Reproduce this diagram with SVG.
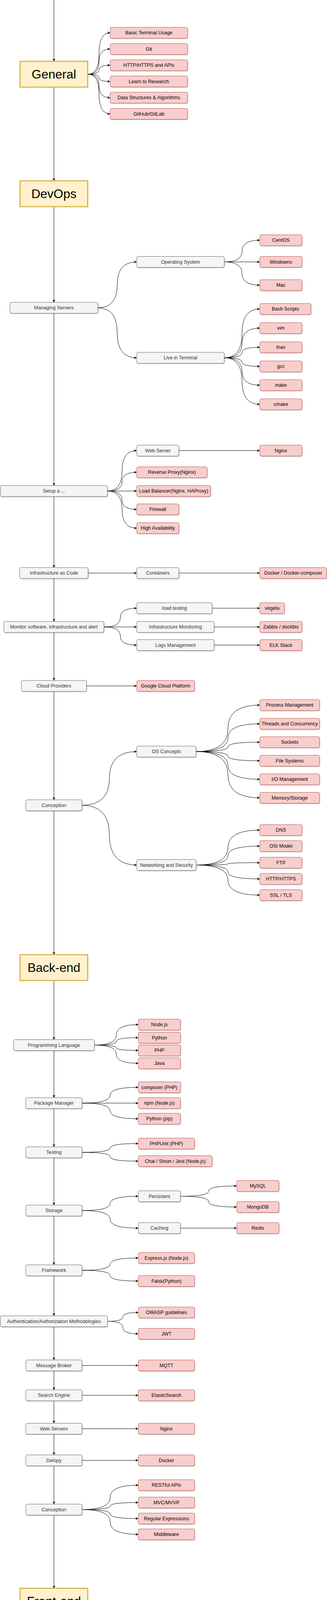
<svg xmlns="http://www.w3.org/2000/svg" width="837" height="6633" viewBox="0 0 837 6633">
<style>
text{font-family:"Liberation Sans",Arial,Helvetica,sans-serif;font-size:12.5px;text-anchor:middle;dominant-baseline:central}
.g rect{fill:#f5f5f5;stroke:#666666;stroke-width:1;filter:url(#sh)}
.g text{fill:#333333}
.r rect{fill:#f8cecc;stroke:#b85450;stroke-width:1;filter:url(#sh)}
.r text{fill:#000000}
.y rect{fill:#fff2cc;stroke:#d6b656;stroke-width:3}
.y text{font-size:32px;fill:#000000}
#edges path{fill:none;stroke:#000000;stroke-width:1;marker-end:url(#ar)}
</style>
<defs>
<marker id="ar" viewBox="0 0 8 8" refX="8" refY="4" markerWidth="7" markerHeight="7" markerUnits="userSpaceOnUse" orient="auto"><path d="M0,0 L8,4 L0,8 L2.2,4 z" fill="#000000"/></marker>
<filter id="sh" x="-5%" y="-20%" width="110%" height="150%"><feDropShadow dx="1" dy="1.5" stdDeviation="0.6" flood-color="#000000" flood-opacity="0.22"/></filter>
</defs>
<rect x="0" y="0" width="837" height="6633" fill="#ffffff"/>

<g id="edges">
<!-- spine -->
<path d="M138 0 L138 157"/>
<path d="M138 223 L138 463"/>
<path d="M138 529 L138 774"/>
<path d="M138 802 L138 1243"/>
<path d="M138 1271 L138 1453"/>
<path d="M138 1481 L138 1591"/>
<path d="M138 1619 L138 1742"/>
<path d="M138 1770 L138 2047.5"/>
<path d="M138 2075.5 L138 2444"/>
<path d="M138 2510 L138 2661.5"/>
<path d="M138 2689.5 L138 2810"/>
<path d="M138 2838 L138 2936"/>
<path d="M138 2964 L138 3085"/>
<path d="M138 3113 L138 3238"/>
<path d="M138 3266 L138 3368.5"/>
<path d="M138 3396.5 L138 3481.5"/>
<path d="M138 3509.5 L138 3558"/>
<path d="M138 3586 L138 3643.5"/>
<path d="M138 3671.5 L138 3724.5"/>
<path d="M138 3752.5 L138 3850.5"/>
<path d="M138 3878.5 L138 4066"/>
<path d="M138 4132 L138 4256"/>
<path d="M138 4284 L138 4406.5"/>
<path d="M138 4434.5 L138 4905"/>
<path d="M138 4933 L138 5357.5"/>
<path d="M138 5385.5 L138 5456.5"/>
<path d="M138 5484.5 L138 5580"/>
<path d="M138 5646 L138 5698"/>
<path d="M138 5726 L138 5761"/>
<path d="M138 5789 L138 5922"/>
<path d="M138 5988 L138 6069.5"/>
<path d="M138 6097.5 L138 6200.5"/>
<path d="M138 6228.5 L138 6299.5"/>
<path d="M138 6327.5 L138 6427.5"/>
<path d="M138 6455.5 L138 6534"/>
<path d="M138 6562 L138 6632"/>
<!-- General -->
<path d="M225 190 Q253.5 190 253.5 137 Q253.5 84 282 84"/>
<path d="M225 190 Q253.5 190 253.5 157.75 Q253.5 125.5 282 125.5"/>
<path d="M225 190 Q253.5 190 253.5 178.5 Q253.5 167 282 167"/>
<path d="M225 190 Q253.5 190 253.5 199.25 Q253.5 208.5 282 208.5"/>
<path d="M225 190 Q253.5 190 253.5 220 Q253.5 250 282 250"/>
<path d="M225 190 Q253.5 190 253.5 240.75 Q253.5 291.5 282 291.5"/>
<!-- Managing servers -->
<path d="M250.5 788 Q300 788 300 729.25 Q300 670.5 350 670.5"/>
<path d="M250.5 788 Q300 788 300 852 Q300 916 350 916"/>
<path d="M574 670.5 Q619.5 670.5 619.5 642.75 Q619.5 615 665 615"/>
<path d="M574 670.5 L665 670.5"/>
<path d="M574 670.5 Q619.5 670.5 619.5 700.25 Q619.5 730 665 730"/>
<path d="M574 916 Q619.5 916 619.5 853.5 Q619.5 791 665 791"/>
<path d="M574 916 Q619.5 916 619.5 878 Q619.5 840 665 840"/>
<path d="M574 916 Q619.5 916 619.5 902.5 Q619.5 889 665 889"/>
<path d="M574 916 Q619.5 916 619.5 927 Q619.5 938 665 938"/>
<path d="M574 916 Q619.5 916 619.5 951 Q619.5 986 665 986"/>
<path d="M574 916 Q619.5 916 619.5 975.5 Q619.5 1035 665 1035"/>
<!-- Setup -->
<path d="M275 1257 Q312.5 1257 312.5 1205.25 Q312.5 1153.5 350 1153.5"/>
<path d="M275 1257 Q312.5 1257 312.5 1233 Q312.5 1209 350 1209"/>
<path d="M275 1257 L350 1257"/>
<path d="M275 1257 Q312.5 1257 312.5 1280.5 Q312.5 1304 350 1304"/>
<path d="M275 1257 Q312.5 1257 312.5 1304.5 Q312.5 1352 350 1352"/>
<path d="M458 1153.5 L665 1153.5"/>
<!-- IaC -->
<path d="M225.5 1467 L350 1467"/>
<path d="M458 1467 L665 1467"/>
<!-- Monitor -->
<path d="M266 1605 Q308 1605 308 1581 Q308 1557 350 1557"/>
<path d="M266 1605 L350 1605"/>
<path d="M266 1605 Q308 1605 308 1628.25 Q308 1651.5 350 1651.5"/>
<path d="M543 1557 L665 1557"/>
<path d="M548 1605 L665 1605"/>
<path d="M548 1651.5 L665 1651.5"/>
<!-- Cloud -->
<path d="M221.5 1756 L350 1756"/>
<!-- DevOps conception -->
<path d="M210 2061.5 Q280 2061.5 280 1992.75 Q280 1924 350 1924"/>
<path d="M210 2061.5 Q280 2061.5 280 2138 Q280 2214.5 350 2214.5"/>
<path d="M502 1924 Q583.5 1924 583.5 1864.5 Q583.5 1805 665 1805"/>
<path d="M502 1924 Q583.5 1924 583.5 1888.5 Q583.5 1853 665 1853"/>
<path d="M502 1924 Q583.5 1924 583.5 1912 Q583.5 1900 665 1900"/>
<path d="M502 1924 Q583.5 1924 583.5 1935.75 Q583.5 1947.5 665 1947.5"/>
<path d="M502 1924 Q583.5 1924 583.5 1959.5 Q583.5 1995 665 1995"/>
<path d="M502 1924 Q583.5 1924 583.5 1983.25 Q583.5 2042.5 665 2042.5"/>
<path d="M502 2214.5 Q583.5 2214.5 583.5 2169.75 Q583.5 2125 665 2125"/>
<path d="M502 2214.5 Q583.5 2214.5 583.5 2190.25 Q583.5 2166 665 2166"/>
<path d="M502 2214.5 Q583.5 2214.5 583.5 2211.5 Q583.5 2208.5 665 2208.5"/>
<path d="M502 2214.5 Q583.5 2214.5 583.5 2232.25 Q583.5 2250 665 2250"/>
<path d="M502 2214.5 Q583.5 2214.5 583.5 2253 Q583.5 2291.5 665 2291.5"/>
<!-- Back-end -->
<path d="M241.5 2675.5 Q297.75 2675.5 297.75 2649.25 Q297.75 2623 354 2623"/>
<path d="M241.5 2675.5 Q297.75 2675.5 297.75 2666 Q297.75 2656.5 354 2656.5"/>
<path d="M241.5 2675.5 Q297.75 2675.5 297.75 2682.25 Q297.75 2689 354 2689"/>
<path d="M241.5 2675.5 Q297.75 2675.5 297.75 2698.75 Q297.75 2722 354 2722"/>
<path d="M210 2824 Q282 2824 282 2803.75 Q282 2783.5 354 2783.5"/>
<path d="M210 2824 L354 2824"/>
<path d="M210 2824 Q282 2824 282 2844 Q282 2864 354 2864"/>
<path d="M210 2950 Q282 2950 282 2938.75 Q282 2927.5 354 2927.5"/>
<path d="M210 2950 Q282 2950 282 2961.25 Q282 2972.5 354 2972.5"/>
<path d="M210 3099 Q282 3099 282 3080.75 Q282 3062.5 354 3062.5"/>
<path d="M210 3099 Q282 3099 282 3121.5 Q282 3144 354 3144"/>
<path d="M462 3062.5 Q534 3062.5 534 3049.25 Q534 3036 606 3036"/>
<path d="M462 3062.5 Q534 3062.5 534 3076.25 Q534 3090 606 3090"/>
<path d="M462 3144 L606 3144"/>
<path d="M210 3252 Q282 3252 282 3236.25 Q282 3220.5 354 3220.5"/>
<path d="M210 3252 Q282 3252 282 3265.75 Q282 3279.5 354 3279.5"/>
<path d="M275 3382.5 Q314.5 3382.5 314.5 3371.25 Q314.5 3360 354 3360"/>
<path d="M275 3382.5 Q314.5 3382.5 314.5 3398.5 Q314.5 3414.5 354 3414.5"/>
<path d="M210 3495.5 L354 3495.5"/>
<path d="M210 3572 L354 3572"/>
<path d="M210 3657.5 L354 3657.5"/>
<path d="M210 3738.5 L354 3738.5"/>
<path d="M210 3864.5 Q282 3864.5 282 3833.25 Q282 3802 354 3802"/>
<path d="M210 3864.5 Q282 3864.5 282 3855.5 Q282 3846.5 354 3846.5"/>
<path d="M210 3864.5 Q282 3864.5 282 3876 Q282 3887.5 354 3887.5"/>
<path d="M210 3864.5 Q282 3864.5 282 3896.25 Q282 3928 354 3928"/>
<!-- Front-end -->
<path d="M192 4270 Q250.5 4270 250.5 4251 Q250.5 4232 309 4232"/>
<path d="M192 4270 L309 4270"/>
<path d="M192 4270 Q250.5 4270 250.5 4289.5 Q250.5 4309 309 4309"/>
<path d="M192 4420.5 Q250.5 4420.5 250.5 4398 Q250.5 4375.5 309 4375.5"/>
<path d="M192 4420.5 L309 4420.5"/>
<path d="M192 4420.5 Q250.5 4420.5 250.5 4443.25 Q250.5 4466 309 4466"/>
<path d="M417 4420.5 L498 4420.5"/>
<path d="M417 4466 L498 4466"/>
<path d="M192 4919 Q250.5 4919 250.5 4735.25 Q250.5 4551.5 309 4551.5"/>
<path d="M192 4919 Q250.5 4919 250.5 4771.25 Q250.5 4623.5 309 4623.5"/>
<path d="M192 4919 Q250.5 4919 250.5 4825.25 Q250.5 4731.5 309 4731.5"/>
<path d="M192 4919 L309 4919"/>
<path d="M192 4919 Q250.5 4919 250.5 5034.25 Q250.5 5149.5 309 5149.5"/>
<path d="M192 4919 Q250.5 4919 250.5 5104.75 Q250.5 5290.5 309 5290.5"/>
<path d="M417 4623.5 Q457.5 4623.5 457.5 4612.25 Q457.5 4601 498 4601"/>
<path d="M417 4623.5 Q457.5 4623.5 457.5 4632.5 Q457.5 4641.5 498 4641.5"/>
<path d="M417 4731.5 Q457.5 4731.5 457.5 4720.25 Q457.5 4709 498 4709"/>
<path d="M417 4731.5 Q457.5 4731.5 457.5 4742.75 Q457.5 4754 498 4754"/>
<path d="M417 4919 Q457.5 4919 457.5 4872.5 Q457.5 4826 498 4826"/>
<path d="M417 4919 Q457.5 4919 457.5 4895.5 Q457.5 4872 498 4872"/>
<path d="M417 4919 L498 4919"/>
<path d="M417 4919 Q457.5 4919 457.5 4942 Q457.5 4965 498 4965"/>
<path d="M417 4919 Q457.5 4919 457.5 4965 Q457.5 5011 498 5011"/>
<path d="M417 5149.5 Q457.5 5149.5 457.5 5117.75 Q457.5 5086 498 5086"/>
<path d="M417 5149.5 Q457.5 5149.5 457.5 5138.75 Q457.5 5128 498 5128"/>
<path d="M417 5149.5 Q457.5 5149.5 457.5 5160 Q457.5 5170.5 498 5170.5"/>
<path d="M417 5149.5 Q457.5 5149.5 457.5 5181 Q457.5 5212.5 498 5212.5"/>
<path d="M471 5290.5 L498 5290.5"/>
<path d="M192 5371.5 L498 5371.5"/>
<path d="M192 5470.5 Q250.5 5470.5 250.5 5458.25 Q250.5 5446 309 5446"/>
<path d="M192 5470.5 Q250.5 5470.5 250.5 5482.75 Q250.5 5495 309 5495"/>
<!-- Mobile -->
<path d="M241.5 5712 L313.5 5712"/>
<path d="M241.5 5775 L313.5 5775"/>
<!-- Research -->
<path d="M192 6083.5 Q255 6083.5 255 6061 Q255 6038.5 318 6038.5"/>
<path d="M192 6083.5 L318 6083.5"/>
<path d="M192 6083.5 Q255 6083.5 255 6106.25 Q255 6129 318 6129"/>
<path d="M241.5 6214.5 Q279.75 6214.5 279.75 6204.25 Q279.75 6194 318 6194"/>
<path d="M241.5 6214.5 Q279.75 6214.5 279.75 6225.25 Q279.75 6236 318 6236"/>
<path d="M241.5 6313.5 Q279.75 6313.5 279.75 6302.25 Q279.75 6291 318 6291"/>
<path d="M241.5 6313.5 Q279.75 6313.5 279.75 6324.75 Q279.75 6336 318 6336"/>
<path d="M241.5 6441.5 Q279.75 6441.5 279.75 6418.25 Q279.75 6395 318 6395"/>
<path d="M241.5 6441.5 L318 6441.5"/>
<path d="M241.5 6441.5 Q279.75 6441.5 279.75 6464.25 Q279.75 6487 318 6487"/>
<path d="M241.5 6548 L318 6548"/>
</g>

<!-- Section headers -->
<g id="n-general" class="y"><rect x="51.5" y="157" width="173" height="66"/><text x="138" y="190">General</text></g>
<g id="n-devops" class="y"><rect x="51.5" y="463" width="173" height="66"/><text x="138" y="496">DevOps</text></g>
<g id="n-backend" class="y"><rect x="51.5" y="2444" width="173" height="66"/><text x="138" y="2477">Back-end</text></g>
<g id="n-frontend" class="y"><rect x="51.5" y="4066" width="173" height="66"/><text x="138" y="4099">Front-end</text></g>
<g id="n-mobile" class="y"><rect x="51.5" y="5580" width="173" height="66"/><text x="138" y="5613">Mobile</text></g>
<g id="n-research" class="y"><rect x="51.5" y="5922" width="173" height="66"/><text x="138" y="5955">Research</text></g>

<!-- General -->
<g id="n-terminal" class="r"><rect x="282" y="70" width="198" height="28" rx="4"/><text x="381" y="84">Basic Terminal Usage</text></g>
<g id="n-git" class="r"><rect x="282" y="111.5" width="198" height="28" rx="4"/><text x="381" y="125.5">Git</text></g>
<g id="n-http" class="r"><rect x="282" y="153" width="198" height="28" rx="4"/><text x="381" y="167">HTTP/HTTPS and APIs</text></g>
<g id="n-research-learn" class="r"><rect x="282" y="194.5" width="198" height="28" rx="4"/><text x="381" y="208.5">Learn to Research</text></g>
<g id="n-dsa" class="r"><rect x="282" y="236" width="198" height="28" rx="4"/><text x="381" y="250">Data Structures &amp; Algorithms</text></g>
<g id="n-github" class="r"><rect x="282" y="277.5" width="198" height="28" rx="4"/><text x="381" y="291.5">GitHub/GitLab</text></g>

<!-- DevOps -->
<g id="n-ms" class="g"><rect x="25.5" y="774" width="225" height="28" rx="4"/><text x="138" y="788">Managing Servers</text></g>
<g id="n-os" class="g"><rect x="350" y="656.5" width="224" height="28" rx="4"/><text x="462" y="670.5">Operating System</text></g>
<g id="n-live" class="g"><rect x="350" y="902" width="224" height="28" rx="4"/><text x="462" y="916">Live in Terminal</text></g>
<g id="n-centos" class="r"><rect x="665" y="601" width="108" height="28" rx="4"/><text x="719" y="615">CentOS</text></g>
<g id="n-windows" class="r"><rect x="665" y="656.5" width="108" height="28" rx="4"/><text x="719" y="670.5">Windowns</text></g>
<g id="n-mac" class="r"><rect x="665" y="716" width="108" height="28" rx="4"/><text x="719" y="730">Mac</text></g>
<g id="n-bash" class="r"><rect x="665" y="777" width="131" height="28" rx="4"/><text x="730.5" y="791">Bash Scripts</text></g>
<g id="n-vim" class="r"><rect x="665" y="826" width="108" height="28" rx="4"/><text x="719" y="840">vim</text></g>
<g id="n-lnav" class="r"><rect x="665" y="875" width="108" height="28" rx="4"/><text x="719" y="889">lnav</text></g>
<g id="n-gcc" class="r"><rect x="665" y="924" width="108" height="28" rx="4"/><text x="719" y="938">gcc</text></g>
<g id="n-make" class="r"><rect x="665" y="972" width="108" height="28" rx="4"/><text x="719" y="986">make</text></g>
<g id="n-cmake" class="r"><rect x="665" y="1021" width="108" height="28" rx="4"/><text x="719" y="1035">cmake</text></g>

<g id="n-setup" class="g"><rect x="1" y="1243" width="274" height="28" rx="4"/><text x="138" y="1257">Setup a ...</text></g>
<g id="n-websrv" class="g"><rect x="350" y="1139.5" width="108" height="28" rx="4"/><text x="404" y="1153.5">Web Server</text></g>
<g id="n-nginx1" class="r"><rect x="665" y="1139.5" width="108" height="28" rx="4"/><text x="719" y="1153.5">Nginx</text></g>
<g id="n-rproxy" class="r"><rect x="350" y="1195" width="180" height="28" rx="4"/><text x="440" y="1209">Reverse Proxy(Nginx)</text></g>
<g id="n-lb" class="r"><rect x="350" y="1243" width="189" height="28" rx="4"/><text x="444.5" y="1257">Load Balancer(Nginx, HAProxy)</text></g>
<g id="n-firewall" class="r"><rect x="350" y="1290" width="108" height="28" rx="4"/><text x="404" y="1304">Firewall</text></g>
<g id="n-ha" class="r"><rect x="350" y="1338" width="108" height="28" rx="4"/><text x="404" y="1352">High Availability</text></g>

<g id="n-iac" class="g"><rect x="50.5" y="1453" width="175" height="28" rx="4"/><text x="138" y="1467">Infrastructure as Code</text></g>
<g id="n-containers" class="g"><rect x="350" y="1453" width="108" height="28" rx="4"/><text x="404" y="1467">Containers</text></g>
<g id="n-docker1" class="r"><rect x="665" y="1453" width="171" height="28" rx="4"/><text x="750.5" y="1467">Docker / Docker-composer</text></g>

<g id="n-monitor" class="g"><rect x="10" y="1591" width="256" height="28" rx="4"/><text x="138" y="1605">Monitor software, infrastructure and alert</text></g>
<g id="n-loadtest" class="g"><rect x="350" y="1543" width="193" height="28" rx="4"/><text x="446.5" y="1557">load testing</text></g>
<g id="n-vegeta" class="r"><rect x="665" y="1543" width="63" height="28" rx="4"/><text x="696.5" y="1557">vegeta</text></g>
<g id="n-inframon" class="g"><rect x="350" y="1591" width="198" height="28" rx="4"/><text x="449" y="1605">Infrastructure Monitoring</text></g>
<g id="n-zabbix" class="r"><rect x="665" y="1591" width="108" height="28" rx="4"/><text x="719" y="1605">Zabbix / dockbix</text></g>
<g id="n-logs" class="g"><rect x="350" y="1637.5" width="198" height="28" rx="4"/><text x="449" y="1651.5">Logs Management</text></g>
<g id="n-elk" class="r"><rect x="665" y="1637.5" width="108" height="28" rx="4"/><text x="719" y="1651.5">ELK Stack</text></g>

<g id="n-cloud" class="g"><rect x="54.5" y="1742" width="167" height="28" rx="4"/><text x="138" y="1756">Cloud Providers</text></g>
<g id="n-gcp" class="r"><rect x="350" y="1742" width="148" height="28" rx="4"/><text x="424" y="1756">Google Cloud Platform</text></g>

<g id="n-dconc" class="g"><rect x="66" y="2047.5" width="144" height="28" rx="4"/><text x="138" y="2061.5">Conception</text></g>
<g id="n-osc" class="g"><rect x="350" y="1910" width="152" height="28" rx="4"/><text x="426" y="1924">OS Concepts</text></g>
<g id="n-net" class="g"><rect x="350" y="2200.5" width="152" height="28" rx="4"/><text x="426" y="2214.5">Networking and Security</text></g>
<g id="n-proc" class="r"><rect x="665" y="1791" width="153" height="28" rx="4"/><text x="741.5" y="1805">Process Management</text></g>
<g id="n-threads" class="r"><rect x="665" y="1839" width="153" height="28" rx="4"/><text x="741.5" y="1853">Threads and Concurrency</text></g>
<g id="n-sockets" class="r"><rect x="665" y="1886" width="153" height="28" rx="4"/><text x="741.5" y="1900">Sockets</text></g>
<g id="n-fs" class="r"><rect x="665" y="1933.5" width="153" height="28" rx="4"/><text x="741.5" y="1947.5">File Systems</text></g>
<g id="n-io" class="r"><rect x="665" y="1981" width="153" height="28" rx="4"/><text x="741.5" y="1995">I/O Management</text></g>
<g id="n-mem" class="r"><rect x="665" y="2028.5" width="153" height="28" rx="4"/><text x="741.5" y="2042.5">Memory/Storage</text></g>
<g id="n-dns" class="r"><rect x="665" y="2111" width="108" height="28" rx="4"/><text x="719" y="2125">DNS</text></g>
<g id="n-osi" class="r"><rect x="665" y="2152" width="108" height="28" rx="4"/><text x="719" y="2166">OSI Model</text></g>
<g id="n-ftp" class="r"><rect x="665" y="2194.5" width="108" height="28" rx="4"/><text x="719" y="2208.5">FTP</text></g>
<g id="n-https" class="r"><rect x="665" y="2236" width="108" height="28" rx="4"/><text x="719" y="2250">HTTP/HTTPS</text></g>
<g id="n-ssl" class="r"><rect x="665" y="2277.5" width="108" height="28" rx="4"/><text x="719" y="2291.5">SSL / TLS</text></g>

<!-- Back-end -->
<g id="n-bpl" class="g"><rect x="34.5" y="2661.5" width="207" height="28" rx="4"/><text x="138" y="2675.5">Programming Language</text></g>
<g id="n-nodejs" class="r"><rect x="354" y="2609" width="108" height="28" rx="4"/><text x="408" y="2623">Node.js</text></g>
<g id="n-python1" class="r"><rect x="354" y="2642.5" width="108" height="28" rx="4"/><text x="408" y="2656.5">Python</text></g>
<g id="n-php" class="r"><rect x="354" y="2675" width="108" height="28" rx="4"/><text x="408" y="2689">PHP</text></g>
<g id="n-java" class="r"><rect x="354" y="2708" width="108" height="28" rx="4"/><text x="408" y="2722">Java</text></g>
<g id="n-bpm" class="g"><rect x="66" y="2810" width="144" height="28" rx="4"/><text x="138" y="2824">Package Manager</text></g>
<g id="n-composer" class="r"><rect x="354" y="2769.5" width="108" height="28" rx="4"/><text x="408" y="2783.5">composer (PHP)</text></g>
<g id="n-npm1" class="r"><rect x="354" y="2810" width="108" height="28" rx="4"/><text x="408" y="2824">npm (Node.js)</text></g>
<g id="n-pip" class="r"><rect x="354" y="2850" width="108" height="28" rx="4"/><text x="408" y="2864">Python (pip)</text></g>
<g id="n-btest" class="g"><rect x="66" y="2936" width="144" height="28" rx="4"/><text x="138" y="2950">Testing</text></g>
<g id="n-phpunit" class="r"><rect x="354" y="2913.5" width="144" height="28" rx="4"/><text x="426" y="2927.5">PHPUnit (PHP)</text></g>
<g id="n-chai1" class="r"><rect x="354" y="2958.5" width="189" height="28" rx="4"/><text x="448.5" y="2972.5">Chai / Sinon / Jest (Node.js)</text></g>
<g id="n-bstor" class="g"><rect x="66" y="3085" width="144" height="28" rx="4"/><text x="138" y="3099">Storage</text></g>
<g id="n-persist" class="g"><rect x="354" y="3048.5" width="108" height="28" rx="4"/><text x="408" y="3062.5">Persistent</text></g>
<g id="n-caching" class="g"><rect x="354" y="3130" width="108" height="28" rx="4"/><text x="408" y="3144">Caching</text></g>
<g id="n-mysql" class="r"><rect x="606" y="3022" width="108" height="28" rx="4"/><text x="660" y="3036">MySQL</text></g>
<g id="n-mongo" class="r"><rect x="606" y="3076" width="108" height="28" rx="4"/><text x="660" y="3090">MongoDB</text></g>
<g id="n-redis" class="r"><rect x="606" y="3130" width="108" height="28" rx="4"/><text x="660" y="3144">Redis</text></g>
<g id="n-bfw" class="g"><rect x="66" y="3238" width="144" height="28" rx="4"/><text x="138" y="3252">Framework</text></g>
<g id="n-express" class="r"><rect x="354" y="3206.5" width="144" height="28" rx="4"/><text x="426" y="3220.5">Express.js (Node.js)</text></g>
<g id="n-flask" class="r"><rect x="354" y="3265.5" width="144" height="28" rx="4"/><text x="426" y="3279.5">Falsk(Python)</text></g>
<g id="n-auth" class="g"><rect x="1" y="3368.5" width="274" height="28" rx="4"/><text x="138" y="3382.5">Authentication/Authorization Methodologies</text></g>
<g id="n-owasp" class="r"><rect x="354" y="3346" width="144" height="28" rx="4"/><text x="426" y="3360">OWASP guidelines</text></g>
<g id="n-jwt" class="r"><rect x="354" y="3400.5" width="144" height="28" rx="4"/><text x="426" y="3414.5">JWT</text></g>
<g id="n-mb" class="g"><rect x="66" y="3481.5" width="144" height="28" rx="4"/><text x="138" y="3495.5">Message Broker</text></g>
<g id="n-mqtt" class="r"><rect x="354" y="3481.5" width="144" height="28" rx="4"/><text x="426" y="3495.5">MQTT</text></g>
<g id="n-se" class="g"><rect x="66" y="3558" width="144" height="28" rx="4"/><text x="138" y="3572">Search Engine</text></g>
<g id="n-elastic" class="r"><rect x="354" y="3558" width="144" height="28" rx="4"/><text x="426" y="3572">ElasticSearch</text></g>
<g id="n-ws" class="g"><rect x="66" y="3643.5" width="144" height="28" rx="4"/><text x="138" y="3657.5">Web Servers</text></g>
<g id="n-nginx2" class="r"><rect x="354" y="3643.5" width="144" height="28" rx="4"/><text x="426" y="3657.5">Nginx</text></g>
<g id="n-deploy" class="g"><rect x="66" y="3724.5" width="144" height="28" rx="4"/><text x="138" y="3738.5">Delopy</text></g>
<g id="n-docker2" class="r"><rect x="354" y="3724.5" width="144" height="28" rx="4"/><text x="426" y="3738.5">Docker</text></g>
<g id="n-bconc" class="g"><rect x="66" y="3850.5" width="144" height="28" rx="4"/><text x="138" y="3864.5">Conception</text></g>
<g id="n-rest" class="r"><rect x="354" y="3788" width="144" height="28" rx="4"/><text x="426" y="3802">RESTful APIs</text></g>
<g id="n-mvvp" class="r"><rect x="354" y="3832.5" width="144" height="28" rx="4"/><text x="426" y="3846.5">MVC/MVVP</text></g>
<g id="n-regex" class="r"><rect x="354" y="3873.5" width="144" height="28" rx="4"/><text x="426" y="3887.5">Regular Expressions</text></g>
<g id="n-middleware" class="r"><rect x="354" y="3914" width="144" height="28" rx="4"/><text x="426" y="3928">Middleware</text></g>

<!-- Front-end -->
<g id="n-feb" class="g"><rect x="84" y="4256" width="108" height="28" rx="4"/><text x="138" y="4270">front-end basics</text></g>
<g id="n-html" class="r"><rect x="309" y="4218" width="108" height="28" rx="4"/><text x="363" y="4232">HTML</text></g>
<g id="n-css2" class="r"><rect x="309" y="4256" width="108" height="28" rx="4"/><text x="363" y="4270">CSS</text></g>
<g id="n-js2" class="r"><rect x="309" y="4295" width="108" height="28" rx="4"/><text x="363" y="4309">JavaScript</text></g>
<g id="n-fcss" class="g"><rect x="84" y="4406.5" width="108" height="28" rx="4"/><text x="138" y="4420.5">CSS</text></g>
<g id="n-responsive" class="r"><rect x="309" y="4361.5" width="108" height="28" rx="4"/><text x="363" y="4375.5">Responsive Web</text></g>
<g id="n-preproc" class="g"><rect x="309" y="4406.5" width="108" height="28" rx="4"/><text x="363" y="4420.5">Preprocessors</text></g>
<g id="n-cssfw" class="g"><rect x="309" y="4452" width="108" height="28" rx="4"/><text x="363" y="4466">Framework</text></g>
<g id="n-sass" class="r"><rect x="498" y="4406.5" width="108" height="28" rx="4"/><text x="552" y="4420.5">SASS</text></g>
<g id="n-bootstrap" class="r"><rect x="498" y="4452" width="108" height="28" rx="4"/><text x="552" y="4466">Booststrap</text></g>
<g id="n-fjs" class="g"><rect x="84" y="4905" width="108" height="28" rx="4"/><text x="138" y="4919">JavaScript</text></g>
<g id="n-es6" class="r"><rect x="309" y="4537.5" width="108" height="28" rx="4"/><text x="363" y="4551.5">ES6</text></g>
<g id="n-taskrun" class="g"><rect x="309" y="4609.5" width="108" height="28" rx="4"/><text x="363" y="4623.5">Task Runners</text></g>
<g id="n-jspm" class="g"><rect x="309" y="4717.5" width="108" height="28" rx="4"/><text x="363" y="4731.5">Package Manager</text></g>
<g id="n-jstest" class="g"><rect x="309" y="4905" width="108" height="28" rx="4"/><text x="363" y="4919">Testing</text></g>
<g id="n-jsfw" class="g"><rect x="309" y="5135.5" width="108" height="28" rx="4"/><text x="363" y="5149.5">Framework</text></g>
<g id="n-modload" class="g"><rect x="309" y="5276.5" width="162" height="28" rx="4"/><text x="390" y="5290.5">Module Loader / Boundler</text></g>
<g id="n-npmscripts" class="r"><rect x="498" y="4587" width="108" height="28" rx="4"/><text x="552" y="4601">npm scripts</text></g>
<g id="n-gulp" class="r"><rect x="498" y="4627.5" width="108" height="28" rx="4"/><text x="552" y="4641.5">gulp</text></g>
<g id="n-npm2" class="r"><rect x="498" y="4695" width="108" height="28" rx="4"/><text x="552" y="4709">npm</text></g>
<g id="n-bower" class="r"><rect x="498" y="4740" width="108" height="28" rx="4"/><text x="552" y="4754">bower</text></g>
<g id="n-jest" class="r"><rect x="498" y="4812" width="108" height="28" rx="4"/><text x="552" y="4826">Jest</text></g>
<g id="n-chai2" class="r"><rect x="498" y="4858" width="108" height="28" rx="4"/><text x="552" y="4872">Chai</text></g>
<g id="n-sinon" class="r"><rect x="498" y="4905" width="108" height="28" rx="4"/><text x="552" y="4919">Sinon</text></g>
<g id="n-wallaby" class="r"><rect x="498" y="4951" width="108" height="28" rx="4"/><text x="552" y="4965">wallaby.js</text></g>
<g id="n-enzyme" class="r"><rect x="498" y="4997" width="108" height="28" rx="4"/><text x="552" y="5011">enzyme</text></g>
<g id="n-react" class="r"><rect x="498" y="5072" width="108" height="28" rx="4"/><text x="552" y="5086">React</text></g>
<g id="n-redux" class="r"><rect x="498" y="5114" width="108" height="28" rx="4"/><text x="552" y="5128">Flux / Redux</text></g>
<g id="n-rxjs" class="r"><rect x="498" y="5156.5" width="108" height="28" rx="4"/><text x="552" y="5170.5">RxJS</text></g>
<g id="n-mui" class="r"><rect x="498" y="5198.5" width="108" height="28" rx="4"/><text x="552" y="5212.5">Material-UI</text></g>
<g id="n-webpack" class="r"><rect x="498" y="5276.5" width="108" height="28" rx="4"/><text x="552" y="5290.5">webpack</text></g>
<g id="n-fsvg" class="g"><rect x="84" y="5357.5" width="108" height="28" rx="4"/><text x="138" y="5371.5">SVG</text></g>
<g id="n-d3" class="r"><rect x="498" y="5357.5" width="108" height="28" rx="4"/><text x="552" y="5371.5">D3</text></g>
<g id="n-fconc" class="g"><rect x="84" y="5456.5" width="108" height="28" rx="4"/><text x="138" y="5470.5">Conception</text></g>
<g id="n-mvc" class="r"><rect x="309" y="5432" width="108" height="28" rx="4"/><text x="363" y="5446">MVC</text></g>
<g id="n-flux" class="r"><rect x="309" y="5481" width="108" height="28" rx="4"/><text x="363" y="5495">Flux</text></g>

<!-- Mobile -->
<g id="n-mpl" class="g"><rect x="34.5" y="5698" width="207" height="28" rx="4"/><text x="138" y="5712">Programming Language</text></g>
<g id="n-objc" class="r"><rect x="313.5" y="5698" width="108" height="28" rx="4"/><text x="367.5" y="5712">Objective-C</text></g>
<g id="n-mfw" class="g"><rect x="34.5" y="5761" width="207" height="28" rx="4"/><text x="138" y="5775">Framework</text></g>
<g id="n-cocoa" class="r"><rect x="313.5" y="5761" width="108" height="28" rx="4"/><text x="367.5" y="5775">Cocoa</text></g>

<!-- Research -->
<g id="n-math" class="g"><rect x="84" y="6069.5" width="108" height="28" rx="4"/><text x="138" y="6083.5">Mathematics</text></g>
<g id="n-matlab" class="r"><rect x="318" y="6024.5" width="108" height="28" rx="4"/><text x="372" y="6038.5">Matlab</text></g>
<g id="n-maple" class="r"><rect x="318" y="6069.5" width="108" height="28" rx="4"/><text x="372" y="6083.5">Maple</text></g>
<g id="n-mathematica" class="r"><rect x="318" y="6115" width="108" height="28" rx="4"/><text x="372" y="6129">Mathematica</text></g>
<g id="n-rpl" class="g"><rect x="34.5" y="6200.5" width="207" height="28" rx="4"/><text x="138" y="6214.5">Programming Language</text></g>
<g id="n-python2" class="r"><rect x="318" y="6180" width="108" height="28" rx="4"/><text x="372" y="6194">Python</text></g>
<g id="n-cpp" class="r"><rect x="318" y="6222" width="108" height="28" rx="4"/><text x="372" y="6236">C / C++</text></g>
<g id="n-ui" class="g"><rect x="34.5" y="6299.5" width="207" height="28" rx="4"/><text x="138" y="6313.5">UI / Graphics</text></g>
<g id="n-qt" class="r"><rect x="318" y="6277" width="108" height="28" rx="4"/><text x="372" y="6291">Qt</text></g>
<g id="n-opengl" class="r"><rect x="318" y="6322" width="108" height="28" rx="4"/><text x="372" y="6336">OpenGL</text></g>
<g id="n-ml" class="g"><rect x="34.5" y="6427.5" width="207" height="28" rx="4"/><text x="138" y="6441.5">Machine Learning / AI</text></g>
<g id="n-cuda" class="r"><rect x="318" y="6381" width="108" height="28" rx="4"/><text x="372" y="6395">CUDA</text></g>
<g id="n-tf" class="r"><rect x="318" y="6427.5" width="108" height="28" rx="4"/><text x="372" y="6441.5">Tensorflow</text></g>
<g id="n-caffe" class="r"><rect x="318" y="6473" width="108" height="28" rx="4"/><text x="372" y="6487">Caffe</text></g>
<g id="n-rconc" class="g"><rect x="34.5" y="6534" width="207" height="28" rx="4"/><text x="138" y="6548">Conception</text></g>
<g id="n-shader" class="r"><rect x="318" y="6534" width="158" height="28" rx="4"/><text x="397" y="6548">Shader programming</text></g>
</svg>
